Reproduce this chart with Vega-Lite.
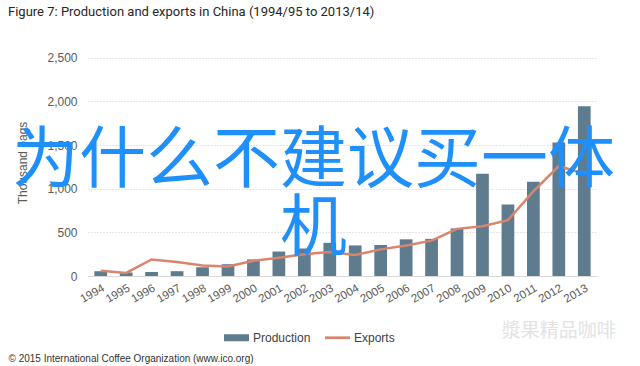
{
  "$schema": "https://vega.github.io/schema/vega-lite/v6.json",
  "width": 509,
  "height": 227,
  "autosize": {"type": "none"},
  "padding": {"left": 88, "top": 49, "right": 43, "bottom": 90},
  "background": "white",
  "title": {
    "text": "Figure 7: Production and exports in China (1994/95 to 2013/14)",
    "anchor": "start",
    "frame": "group",
    "dx": -80,
    "offset": 30,
    "font": "Roboto",
    "fontSize": 13,
    "fontWeight": "normal",
    "color": "#262626"
  },
  "config": {
    "view": {"stroke": null},
    "font": "Liberation Sans"
  },
  "datasets": {
    "coffee": [
      {"year": "1994", "series": "Production", "value": 55},
      {"year": "1995", "series": "Production", "value": 40},
      {"year": "1996", "series": "Production", "value": 45},
      {"year": "1997", "series": "Production", "value": 55},
      {"year": "1998", "series": "Production", "value": 100},
      {"year": "1999", "series": "Production", "value": 135},
      {"year": "2000", "series": "Production", "value": 190},
      {"year": "2001", "series": "Production", "value": 280},
      {"year": "2002", "series": "Production", "value": 315},
      {"year": "2003", "series": "Production", "value": 380},
      {"year": "2004", "series": "Production", "value": 350},
      {"year": "2005", "series": "Production", "value": 355},
      {"year": "2006", "series": "Production", "value": 420},
      {"year": "2007", "series": "Production", "value": 425},
      {"year": "2008", "series": "Production", "value": 545},
      {"year": "2009", "series": "Production", "value": 1170},
      {"year": "2010", "series": "Production", "value": 820},
      {"year": "2011", "series": "Production", "value": 1080},
      {"year": "2012", "series": "Production", "value": 1530},
      {"year": "2013", "series": "Production", "value": 1945},
      {"year": "1994", "series": "Exports", "value": 60},
      {"year": "1995", "series": "Exports", "value": 35},
      {"year": "1996", "series": "Exports", "value": 190},
      {"year": "1997", "series": "Exports", "value": 160},
      {"year": "1998", "series": "Exports", "value": 120},
      {"year": "1999", "series": "Exports", "value": 110},
      {"year": "2000", "series": "Exports", "value": 175},
      {"year": "2001", "series": "Exports", "value": 210},
      {"year": "2002", "series": "Exports", "value": 250},
      {"year": "2003", "series": "Exports", "value": 275},
      {"year": "2004", "series": "Exports", "value": 240},
      {"year": "2005", "series": "Exports", "value": 305},
      {"year": "2006", "series": "Exports", "value": 350},
      {"year": "2007", "series": "Exports", "value": 405},
      {"year": "2008", "series": "Exports", "value": 540},
      {"year": "2009", "series": "Exports", "value": 570},
      {"year": "2010", "series": "Exports", "value": 640},
      {"year": "2011", "series": "Exports", "value": 970},
      {"year": "2012", "series": "Exports", "value": 1260},
      {"year": "2013", "series": "Exports", "value": 1170}
    ],
    "overlay": [
      {"t": "为什么不建议买一体", "v": 1310},
      {"t": "机", "v": 530}
    ],
    "mark": [
      {"year": "2012", "t": "漿果精品咖啡", "v": -628}
    ]
  },
  "layer": [
    {
      "data": {"name": "coffee"},
      "transform": [{"filter": "datum.series === 'Production'"}],
      "mark": {"type": "bar"},
      "encoding": {
        "x": {
          "field": "year",
          "type": "ordinal",
          "scale": {"paddingInner": 0.5, "paddingOuter": 0.25},
          "axis": {
            "title": "© 2015 International Coffee Organization (www.ico.org)",
            "titleAnchor": "start",
            "titleAlign": "left",
            "titleX": -80,
            "titleY": 85,
            "titleBaseline": "alphabetic",
            "titleFont": "Liberation Sans",
            "titleFontSize": 10,
            "titleFontWeight": "normal",
            "titleColor": "#333333",
            "labelAngle": -30,
            "labelFontSize": 11.5,
            "labelColor": "#595959",
            "labelPadding": 6,
            "ticks": false,
            "domainColor": "#d9d9d9",
            "grid": false
          }
        },
        "y": {
          "field": "value",
          "type": "quantitative",
          "scale": {"domain": [0, 2500]},
          "axis": {
            "title": "Thousand bags",
            "titleFontWeight": "normal",
            "titleFontSize": 12,
            "titleColor": "#595959",
            "titlePadding": 17,
            "values": [0, 500, 1000, 1500, 2000, 2500],
            "format": ",.0f",
            "labelFontSize": 12,
            "labelColor": "#595959",
            "labelPadding": 11,
            "ticks": false,
            "domain": false,
            "gridColor": "#cccccc",
            "gridDash": [1, 2]
          }
        },
        "color": {
          "field": "series",
          "type": "nominal",
          "scale": {"domain": ["Production", "Exports"], "range": ["#5f7b8e", "#d9846c"]},
          "legend": {
            "orient": "none",
            "legendX": 136,
            "legendY": 276,
            "direction": "horizontal",
            "title": null,
            "labelFont": "Liberation Sans",
            "labelFontSize": 12,
            "labelColor": "#404040",
            "labelOffset": 4,
            "columnPadding": 14,
            "symbolSize": 625,
            "symbolStrokeWidth": 0,
            "symbolOpacity": 1,
            "encode": {
              "symbols": {
                "update": {
                  "shape": {"signal": "datum.value === 'Production' ? 'M-1,-0.28H1V0.28H-1Z' : 'M-1,-0.11H1V0.11H-1Z'"}
                }
              }
            }
          }
        }
      }
    },
    {
      "data": {"name": "coffee"},
      "transform": [{"filter": "datum.series === 'Exports'"}],
      "mark": {"type": "line", "strokeWidth": 2.5},
      "encoding": {
        "x": {"field": "year", "type": "ordinal"},
        "y": {"field": "value", "type": "quantitative"},
        "color": {"field": "series", "type": "nominal"}
      }
    },
    {
      "data": {"name": "overlay"},
      "mark": {
        "type": "text",
        "font": "Noto Sans CJK SC",
        "fontSize": 67,
        "fontWeight": "normal",
        "color": "#1f8ffb",
        "align": "center",
        "baseline": "middle",
        "dx": -29
      },
      "encoding": {
        "y": {"field": "v", "type": "quantitative"},
        "text": {"field": "t"}
      }
    },
    {
      "data": {"name": "mark"},
      "mark": {
        "type": "text",
        "font": "Noto Sans CJK SC",
        "fontSize": 19,
        "color": "#e3e3e3",
        "align": "center",
        "baseline": "middle"
      },
      "encoding": {
        "x": {"field": "year", "type": "ordinal"},
        "y": {"field": "v", "type": "quantitative"},
        "text": {"field": "t"}
      }
    }
  ]
}
